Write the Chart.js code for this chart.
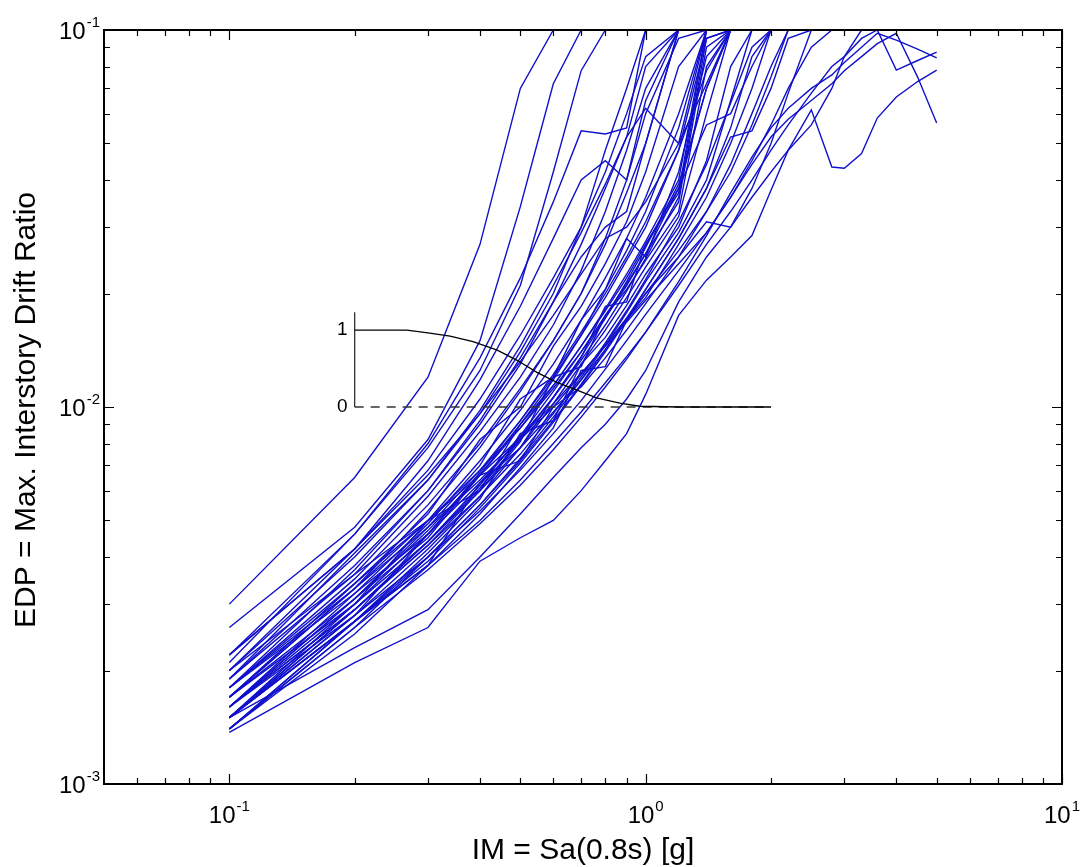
<!DOCTYPE html>
<html>
<head>
<meta charset="utf-8">
<script src="https://cdn.jsdelivr.net/npm/chart.js@4.4.1/dist/chart.umd.min.js"></script>
<style>
  html, body { margin: 0; padding: 0; background: #fff; }
  #caja { width: 1084px; height: 867px; }
</style>
</head>
<body>
<div id="caja"><canvas id="grafico"></canvas></div>
<script>
// IM = Sa(0.8s) [g] en cada paso del IDA
const sa = [0.1, 0.2, 0.3, 0.4, 0.5, 0.6, 0.7, 0.8, 0.9, 1.0, 1.2, 1.4, 1.6, 1.8, 2.0, 2.2, 2.5, 2.8, 3.0, 3.3, 3.6, 4.0, 4.5, 5.0];

// EDP = deriva maxima de entrepiso, un registro por curva
const rec01 = [0.0030, 0.0065, 0.0120, 0.0270, 0.0700, 0.1];
const rec02 = [0.0026, 0.0048, 0.0082, 0.0150, 0.0340, 0.0720, 0.1];
const rec03 = [0.0022, 0.0046, 0.0078, 0.0125, 0.0210, 0.0420, 0.0780, 0.1];
const rec04 = [0.0021, 0.0046, 0.0080, 0.0135, 0.0220, 0.0350, 0.0540, 0.0530, 0.0550, 0.1];
const rec05 = [0.0020, 0.0042, 0.0072, 0.0118, 0.0185, 0.0280, 0.0400, 0.0450, 0.0400, 0.0650, 0.1];
const rec06 = [0.0019, 0.0041, 0.0064, 0.0096, 0.0140, 0.0200, 0.0300, 0.0480, 0.0700, 0.1];
const rec07 = [0.0018, 0.0037, 0.0060, 0.0090, 0.0130, 0.0190, 0.0270, 0.0380, 0.0520, 0.0620, 0.0500, 0.1];
const rec08 = [0.0019, 0.0036, 0.0058, 0.0086, 0.0120, 0.0165, 0.0230, 0.0330, 0.0480, 0.0700, 0.1];
const rec09 = [0.0018, 0.0035, 0.0055, 0.0080, 0.0112, 0.0150, 0.0200, 0.0270, 0.0370, 0.0500, 0.1, 0.1, 0.1, 0.1];
const rec10 = [0.0017, 0.0034, 0.0052, 0.0082, 0.0100, 0.0145, 0.0185, 0.0240, 0.0310, 0.0420, 0.0800, 0.1];
const rec11 = [0.0017, 0.0033, 0.0050, 0.0072, 0.0098, 0.0130, 0.0170, 0.0220, 0.0280, 0.0360, 0.0600, 0.1];
const rec12 = [0.0016, 0.0032, 0.0049, 0.0070, 0.0105, 0.0120, 0.0170, 0.0205, 0.0260, 0.0330, 0.0550, 0.1];
const rec13 = [0.0016, 0.0031, 0.0048, 0.0068, 0.0092, 0.0120, 0.0155, 0.0195, 0.0245, 0.0300, 0.0480, 0.0950, 0.1];
const rec14 = [0.0017, 0.0030, 0.0046, 0.0066, 0.0090, 0.0118, 0.0155, 0.0205, 0.0280, 0.0250, 0.0420, 0.0850, 0.1];
const rec15 = [0.0015, 0.0030, 0.0050, 0.0060, 0.0090, 0.0114, 0.0145, 0.0180, 0.0220, 0.0270, 0.0380, 0.0700, 0.1];
const rec16 = [0.0016, 0.0029, 0.0044, 0.0062, 0.0084, 0.0110, 0.0140, 0.0175, 0.0212, 0.0255, 0.0350, 0.0900, 0.1];
const rec17 = [0.0015, 0.0029, 0.0043, 0.0060, 0.0081, 0.0120, 0.0128, 0.0175, 0.0205, 0.0245, 0.0330, 0.0800, 0.1];
const rec18 = [0.0015, 0.0028, 0.0042, 0.0058, 0.0078, 0.0102, 0.0130, 0.0160, 0.0195, 0.0235, 0.0320, 0.0600, 0.1];
const rec19 = [0.0014, 0.0027, 0.0041, 0.0057, 0.0085, 0.0092, 0.0130, 0.0153, 0.0186, 0.0225, 0.0300, 0.0450, 0.0800, 0.1];
const rec20 = [0.0014, 0.0026, 0.0040, 0.0055, 0.0073, 0.0094, 0.0118, 0.0146, 0.0178, 0.0215, 0.0290, 0.0400, 0.0650, 0.1];
const rec21 = [0.0015, 0.0027, 0.0039, 0.0054, 0.0071, 0.0091, 0.0114, 0.0140, 0.0170, 0.0205, 0.0280, 0.0380, 0.0550, 0.0850, 0.1];
const rec22 = [0.0014, 0.0025, 0.0038, 0.0052, 0.0069, 0.0088, 0.0125, 0.0128, 0.0170, 0.0195, 0.0270, 0.0360, 0.0500, 0.0700, 0.1];
const rec23 = [0.0016, 0.0030, 0.0044, 0.0060, 0.0078, 0.0097, 0.0118, 0.0142, 0.0170, 0.0200, 0.0260, 0.0330, 0.0420, 0.0560, 0.0750, 0.1];
const rec24 = [0.0018, 0.0033, 0.0048, 0.0064, 0.0082, 0.0100, 0.0122, 0.0146, 0.0172, 0.0200, 0.0250, 0.0310, 0.0300, 0.0380, 0.0500, 0.0680, 0.1];
const rec25 = [0.0020, 0.0036, 0.0050, 0.0066, 0.0083, 0.0102, 0.0123, 0.0145, 0.0168, 0.0192, 0.0240, 0.0290, 0.0360, 0.0450, 0.0560, 0.0700, 0.0900, 0.1];
const rec26 = [0.00137, 0.0021, 0.0026, 0.0039, 0.0045, 0.0050, 0.0060, 0.0072, 0.0085, 0.0108, 0.0175, 0.0217, 0.0250, 0.0285, 0.0376, 0.0480, 0.0614, 0.0433, 0.0430, 0.0470, 0.0584, 0.0664, 0.0730, 0.0783];
const rec27 = [0.0015, 0.0023, 0.0029, 0.0040, 0.0052, 0.0065, 0.0078, 0.0090, 0.0105, 0.0125, 0.0190, 0.0250, 0.0300, 0.0360, 0.0420, 0.0480, 0.0560, 0.0700, 0.0850, 0.1];
const rec28 = [0.0015, 0.0027, 0.0038, 0.0050, 0.0064, 0.0080, 0.0097, 0.0116, 0.0136, 0.0158, 0.0210, 0.0270, 0.0330, 0.0400, 0.0480, 0.0560, 0.0680, 0.0800, 0.0850, 0.0950, 0.1, 0.0783, 0.0830, 0.0874];
const rec29 = [0.0016, 0.0028, 0.0040, 0.0053, 0.0068, 0.0085, 0.0104, 0.0126, 0.0150, 0.0176, 0.0230, 0.0290, 0.0360, 0.0440, 0.0520, 0.0580, 0.0650, 0.0720, 0.0780, 0.0850, 0.0920, 0.0980, 0.0750, 0.0567];
const rec30 = [0.0014, 0.0026, 0.0037, 0.0049, 0.0062, 0.0077, 0.0094, 0.0113, 0.0134, 0.0158, 0.0215, 0.0285, 0.0370, 0.0460, 0.0550, 0.0620, 0.0700, 0.0760, 0.0820, 0.0900, 0.0980, 0.0940, 0.0890, 0.0843];
const rec31 = [0.0017, 0.0031, 0.0045, 0.0066, 0.0072, 0.0100, 0.0113, 0.0135, 0.0160, 0.0188, 0.0250, 0.0330, 0.0440, 0.0600, 0.0800, 0.1];
const rec32 = [0.0015, 0.0027, 0.0040, 0.0055, 0.0072, 0.0092, 0.0115, 0.0142, 0.0172, 0.0205, 0.0280, 0.0380, 0.0520, 0.0540, 0.0700, 0.0950, 0.1];
const rec33 = [0.0016, 0.0029, 0.0043, 0.0058, 0.0075, 0.0096, 0.0120, 0.0148, 0.0180, 0.0218, 0.0310, 0.0440, 0.0640, 0.0900, 0.1];
const rec34 = [0.0018, 0.0034, 0.0050, 0.0068, 0.0088, 0.0112, 0.0140, 0.0172, 0.0210, 0.0255, 0.0380, 0.0560, 0.0600, 0.0800, 0.1];
const rec35 = [0.0022, 0.0042, 0.0068, 0.0105, 0.0155, 0.0220, 0.0300, 0.0420, 0.0600, 0.0850, 0.1];
const rec36 = [0.0020, 0.0040, 0.0064, 0.0098, 0.0145, 0.0210, 0.0290, 0.0390, 0.0520, 0.0800, 0.1];
const rec37 = [0.0019, 0.0038, 0.0060, 0.0092, 0.0135, 0.0190, 0.0250, 0.0300, 0.0330, 0.0500, 0.1];
const rec38 = [0.0017, 0.0033, 0.0053, 0.0078, 0.0110, 0.0150, 0.0200, 0.0280, 0.0400, 0.0600, 0.0950, 0.1];
const rec39 = [0.0016, 0.0031, 0.0047, 0.0066, 0.0088, 0.0114, 0.0145, 0.0182, 0.0225, 0.0275, 0.0400, 0.1];
const rec40 = [0.0015, 0.0029, 0.0044, 0.0061, 0.0082, 0.0106, 0.0135, 0.0185, 0.0190, 0.0270, 0.0370, 0.1];
const rec41 = [0.0018, 0.0032, 0.0046, 0.0063, 0.0083, 0.0106, 0.0133, 0.0165, 0.0203, 0.0248, 0.0360, 0.0950, 0.1];
const rec42 = [0.0014, 0.0027, 0.0038, 0.0063, 0.0078, 0.0106, 0.0136, 0.0172, 0.0215, 0.0265, 0.0390, 0.0700, 0.1];
const rec43 = [0.0022, 0.0042, 0.0066, 0.0096, 0.0132, 0.0175, 0.0225, 0.0280, 0.0300, 0.0350, 0.0500, 0.0720, 0.1];
const rec44 = [0.0015, 0.0028, 0.0046, 0.0067, 0.0092, 0.0122, 0.0158, 0.0200, 0.0250, 0.0310, 0.0480, 0.0780, 0.1];

const registros = [rec01, rec02, rec03, rec04, rec05, rec06, rec07, rec08, rec09, rec10, rec11,
  rec12, rec13, rec14, rec15, rec16, rec17, rec18, rec19, rec20, rec21, rec22, rec23, rec24,
  rec25, rec26, rec27, rec28, rec29, rec30, rec31, rec32, rec33, rec34, rec35, rec36, rec37,
  rec38, rec39, rec40, rec41, rec42, rec43, rec44];

// curva pequena insertada (0 a 1) sobre el mismo eje IM
const insetSa = [0.2, 0.267, 0.303, 0.339, 0.385, 0.44, 0.49, 0.548, 0.612, 0.684, 0.762, 0.867, 0.968, 1.2, 1.6, 2.0];
const insetVal = [1, 1, 0.96, 0.92, 0.85, 0.74, 0.61, 0.45, 0.32, 0.22, 0.12, 0.05, 0.01, 0, 0, 0];
const insetEje = [0, 1.23];
const insetBase = [0.2, 2.0];

// etiquetas de los ejes
const xTicks = [0.1, 1, 10];
const xExps = ["-1", "0", "1"];
const yTicks = [0.001, 0.01, 0.1];
const yExps = ["-3", "-2", "-1"];

const fuente = '"Liberation Sans", Arial, sans-serif';

// ========== Datasets ==========
const datasets = [];

datasets.push({
  data: insetSa.map((x, i) => ({ x: x, y: insetVal[i] })),
  yAxisID: "yInset",
  borderColor: "#000",
  borderWidth: 1.3,
  order: 0,
});
datasets.push({
  data: insetEje.map((v) => ({ x: insetSa[0], y: v })),
  yAxisID: "yInset",
  borderColor: "#333",
  borderWidth: 1.3,
  order: 0,
});
datasets.push({
  data: insetBase.map((x) => ({ x: x, y: 0 })),
  yAxisID: "yInset",
  borderColor: "#333",
  borderWidth: 1.6,
  borderDash: [9, 7],
  order: 0,
});

registros.forEach((r) => {
  datasets.push({
    data: r.map((v, i) => ({ x: sa[i], y: v })),
    yAxisID: "y",
    borderColor: "#1010cc",
    borderWidth: 1.4,
    order: 1,
  });
});

// ========== Ejes, marcas y textos ==========
function potencia(ctx, exp, x, y, modo) {
  ctx.font = "24px " + fuente;
  const wBase = ctx.measureText("10").width;
  ctx.font = "15px " + fuente;
  const wExp = ctx.measureText(exp).width;
  let x0;
  if (modo === "centro") x0 = x - (wBase + wExp + 1) / 2;
  else x0 = x - (wBase + wExp + 1);
  ctx.textBaseline = "alphabetic";
  ctx.textAlign = "left";
  ctx.font = "24px " + fuente;
  ctx.fillText("10", x0, y);
  ctx.font = "15px " + fuente;
  ctx.fillText(exp, x0 + wBase + 1, y - 12);
}

const ejes = {
  id: "ejes",
  afterDatasetsDraw(chart) {
    const { ctx, chartArea: a, scales } = chart;
    const x = scales.x;
    const y = scales.y;
    const yi = scales.yInset;
    ctx.save();
    ctx.strokeStyle = "#000";
    ctx.fillStyle = "#000";

    // marcas menores y mayores en los cuatro lados
    ctx.lineWidth = 1.2;
    const marcaX = (v, largo) => {
      const px = Math.round(x.getPixelForValue(v)) + 0.5;
      ctx.beginPath();
      ctx.moveTo(px, a.bottom); ctx.lineTo(px, a.bottom - largo);
      ctx.moveTo(px, a.top); ctx.lineTo(px, a.top + largo);
      ctx.stroke();
    };
    const marcaY = (v, largo) => {
      const py = Math.round(y.getPixelForValue(v)) + 0.5;
      ctx.beginPath();
      ctx.moveTo(a.left, py); ctx.lineTo(a.left + largo, py);
      ctx.moveTo(a.right, py); ctx.lineTo(a.right - largo, py);
      ctx.stroke();
    };
    for (let d = 0.01; d < 10; d *= 10) {
      for (let k = 2; k <= 9; k++) {
        const v = k * d;
        if (v > 0.05 && v < 10) marcaX(v, 6);
      }
    }
    xTicks.forEach((v) => marcaX(v, 10));
    for (let d = 0.001; d < 0.1; d *= 10) {
      for (let k = 2; k <= 9; k++) marcaY(k * d, 6);
    }
    yTicks.forEach((v) => marcaY(v, 10));

    // marco
    ctx.lineWidth = 2;
    ctx.strokeRect(a.left, a.top, a.right - a.left, a.bottom - a.top);

    // etiquetas de marcas
    xTicks.forEach((v, i) => potencia(ctx, xExps[i], x.getPixelForValue(v), 823, "centro"));
    yTicks.forEach((v, i) => potencia(ctx, yExps[i], 100, y.getPixelForValue(v) + 9, "derecha"));

    // etiquetas de la curva insertada
    ctx.font = "19px " + fuente;
    ctx.textAlign = "right";
    ctx.textBaseline = "middle";
    const xi = x.getPixelForValue(insetSa[0]) - 7;
    ctx.fillText("1", xi, yi.getPixelForValue(1));
    ctx.fillText("0", xi, yi.getPixelForValue(0));

    // titulos de los ejes
    ctx.font = "30px " + fuente;
    ctx.textAlign = "center";
    ctx.textBaseline = "alphabetic";
    ctx.fillText("IM = Sa(0.8s) [g]", (a.left + a.right) / 2, 859);
    ctx.translate(35, 410);
    ctx.rotate(-Math.PI / 2);
    ctx.fillText("EDP = Max. Interstory Drift Ratio", 0, 0);
    ctx.restore();
  },
};

new Chart(document.getElementById("grafico"), {
  type: "line",
  data: { datasets: datasets },
  options: {
    responsive: true,
    maintainAspectRatio: false,
    animation: false,
    layout: { padding: { left: 104, right: 22, top: 30, bottom: 83 } },
    elements: { point: { radius: 0 }, line: { tension: 0 } },
    plugins: { legend: { display: false }, tooltip: { enabled: false } },
    scales: {
      x: { type: "logarithmic", min: 0.05, max: 10, display: false },
      y: { type: "logarithmic", min: 0.001, max: 0.1, display: false },
      yInset: { type: "linear", min: -4.9, max: 4.9, display: false },
    },
  },
  plugins: [ejes],
});
</script>
</body>
</html>
